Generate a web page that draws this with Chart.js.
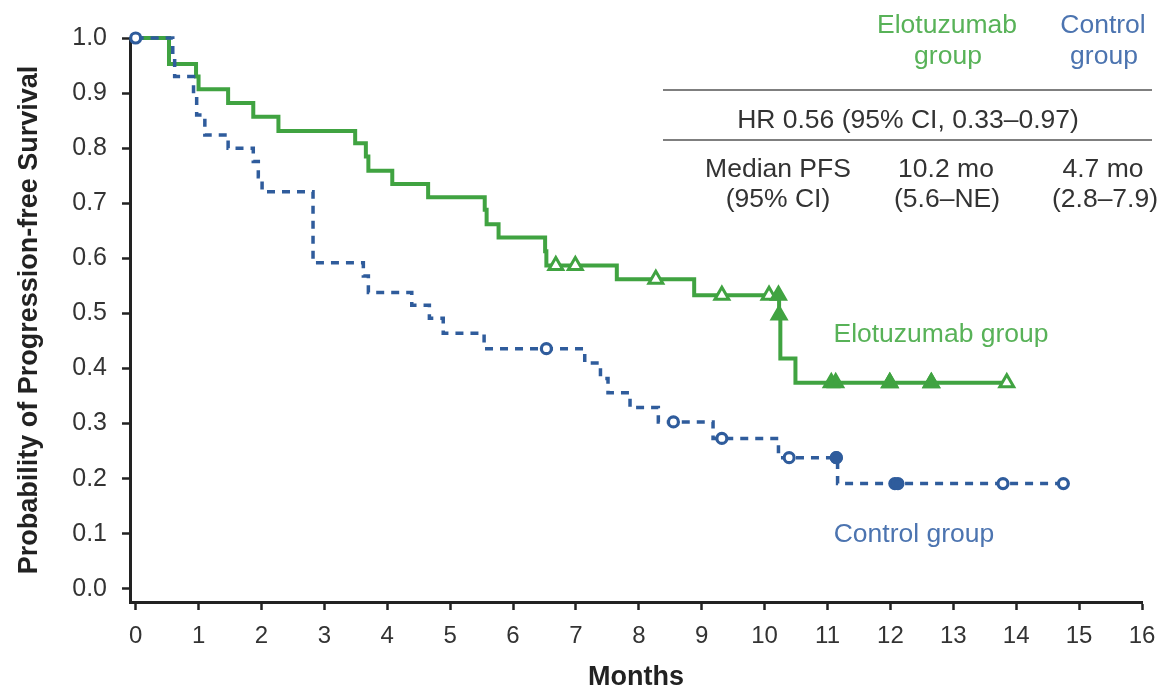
<!DOCTYPE html>
<html>
<head>
<meta charset="utf-8">
<script src="https://cdn.jsdelivr.net/npm/chart.js@4.4.1/dist/chart.umd.min.js"></script>
<style>
  html, body { margin: 0; padding: 0; background: #ffffff; }
  #wrap { width: 1162px; height: 691px; position: relative; }
</style>
</head>
<body>
<div id="wrap"><canvas id="km"></canvas></div>
<script>
// Axis ticks
const monthTicks = [0, 1, 2, 3, 4, 5, 6, 7, 8, 9, 10, 11, 12, 13, 14, 15, 16];
const survivalTicks = [0, 0.1, 0.2, 0.3, 0.4, 0.5, 0.6, 0.7, 0.8, 0.9, 1.0];

// Elotuzumab group: event times (months) and survival after each step
const eloTimes = [0, 0.53, 0.96, 1.00, 1.47, 1.87, 2.27, 3.49, 3.66, 3.70, 4.08, 4.65, 5.55, 5.58, 5.77, 6.51, 6.53, 7.65, 8.88, 10.23, 10.25, 10.49, 13.85];
const eloSurv  = [1.0, 0.953, 0.930, 0.907, 0.882, 0.857, 0.831, 0.809, 0.785, 0.759, 0.735, 0.711, 0.688, 0.662, 0.638, 0.613, 0.587, 0.562, 0.533, 0.497, 0.418, 0.374, 0.374];
// Elotuzumab group: censored observations
const eloCensorTimes = [6.68, 6.99, 8.27, 9.32, 10.07, 10.22, 10.23, 11.06, 11.13, 11.99, 11.99, 12.65, 12.65, 13.85];
const eloCensorSurv  = [0.587, 0.587, 0.562, 0.533, 0.533, 0.533, 0.497, 0.374, 0.374, 0.374, 0.374, 0.374, 0.374, 0.374];

// Control group: event times (months) and survival after each step
const ctlTimes = [0, 0.59, 0.62, 0.92, 0.97, 1.10, 1.47, 1.87, 1.95, 2.01, 2.82, 3.62, 3.70, 4.39, 4.67, 4.89, 5.54, 7.14, 7.39, 7.51, 7.86, 8.31, 9.18, 10.22, 11.16, 14.75];
const ctlSurv  = [1.0, 0.965, 0.930, 0.895, 0.860, 0.824, 0.800, 0.776, 0.748, 0.721, 0.592, 0.568, 0.538, 0.515, 0.491, 0.464, 0.436, 0.410, 0.382, 0.356, 0.329, 0.303, 0.273, 0.238, 0.191, 0.191];
// Control group: censored observations
const ctlCensorTimes = [0, 6.53, 8.55, 9.32, 10.39, 11.14, 11.14, 12.07, 12.12, 13.79, 14.75];
const ctlCensorSurv  = [1.0, 0.436, 0.303, 0.273, 0.238, 0.238, 0.238, 0.191, 0.191, 0.191, 0.191];

const GREEN = '#40a341';
const GREEN_TEXT = '#58b258';
const BLUE = '#2f5c9c';
const BLUE_TEXT = '#4c74b0';
const FONT = '"Liberation Sans", Arial, Helvetica, sans-serif';

const toPoints = (xs, ys) => xs.map((x, i) => ({ x: x, y: ys[i] }));

// A censor mark is drawn solid where several censorings pile up at nearly the same time
function crowded(times, idx) {
  let n = 0;
  for (const t of times) if (Math.abs(t - times[idx]) < 0.1) n++;
  return n > 1;
}

const annotations = {
  id: 'kmAnnotations',
  afterDraw(chart) {
    const ctx = chart.ctx;
    ctx.save();
    ctx.textAlign = 'center';
    ctx.textBaseline = 'alphabetic';
    ctx.font = '26.5px ' + FONT;

    ctx.fillStyle = GREEN_TEXT;
    ctx.fillText('Elotuzumab', 947, 33);
    ctx.fillText('group', 948, 64);
    ctx.fillStyle = BLUE_TEXT;
    ctx.fillText('Control', 1103, 33);
    ctx.fillText('group', 1104, 64);

    ctx.strokeStyle = '#555';
    ctx.lineWidth = 1.5;
    ctx.beginPath();
    ctx.moveTo(663, 90); ctx.lineTo(1152, 90);
    ctx.moveTo(663, 140); ctx.lineTo(1152, 140);
    ctx.stroke();

    ctx.fillStyle = '#333';
    ctx.fillText('HR 0.56 (95% CI, 0.33\u20130.97)', 908, 128);
    ctx.fillText('Median PFS', 778, 177);
    ctx.fillText('(95% CI)', 778, 207);
    ctx.fillText('10.2 mo', 946, 177);
    ctx.fillText('(5.6\u2013NE)', 947, 207);
    ctx.fillText('4.7 mo', 1103, 177);
    ctx.fillText('(2.8\u20137.9)', 1105, 207);

    ctx.fillStyle = GREEN_TEXT;
    ctx.fillText('Elotuzumab group', 941, 342);
    ctx.fillStyle = BLUE_TEXT;
    ctx.fillText('Control group', 914, 542);
    ctx.restore();
  }
};

new Chart(document.getElementById('km'), {
  type: 'line',
  data: {
    datasets: [
      {
        label: 'Elotuzumab group',
        data: toPoints(eloTimes, eloSurv),
        stepped: 'before',
        borderColor: GREEN,
        borderWidth: 4,
        pointRadius: 0,
        fill: false,
        clip: false,
        order: 4
      },
      {
        label: 'Control group',
        data: toPoints(ctlTimes, ctlSurv),
        stepped: 'before',
        borderColor: BLUE,
        borderWidth: 3.5,
        borderDash: [8, 7],
        borderCapStyle: 'butt',
        pointRadius: 0,
        fill: false,
        clip: false,
        order: 3
      },
      {
        label: 'Elotuzumab censored',
        data: toPoints(eloCensorTimes, eloCensorSurv),
        showLine: false,
        pointStyle: 'triangle',
        pointRadius: 8,
        borderWidth: 3,
        borderColor: GREEN,
        backgroundColor: c => crowded(eloCensorTimes, c.dataIndex) ? GREEN : '#ffffff',
        clip: false,
        order: 2
      },
      {
        label: 'Control censored',
        data: toPoints(ctlCensorTimes, ctlCensorSurv),
        showLine: false,
        pointStyle: 'circle',
        pointRadius: 5,
        borderWidth: 3.2,
        borderColor: BLUE,
        backgroundColor: c => crowded(ctlCensorTimes, c.dataIndex) ? BLUE : '#ffffff',
        clip: false,
        order: 1
      }
    ]
  },
  options: {
    responsive: true,
    maintainAspectRatio: false,
    devicePixelRatio: 1,
    animation: false,
    events: [],
    layout: { padding: { top: 38, right: 20, left: 0, bottom: 0 } },
    plugins: { legend: { display: false }, tooltip: { enabled: false } },
    scales: {
      x: {
        type: 'linear',
        min: -0.09,
        max: 16,
        afterBuildTicks: s => { s.ticks = monthTicks.map(v => ({ value: v })); },
        afterFit: s => { s.height = 89; s.paddingLeft = 0; s.paddingRight = 0; },
        ticks: {
          autoSkip: false,
          maxRotation: 0,
          padding: 12,
          color: '#333',
          font: { family: FONT, size: 24 },
          callback: v => String(v)
        },
        grid: {
          display: true,
          drawOnChartArea: false,
          drawTicks: true,
          tickLength: 8,
          tickWidth: 2.5,
          tickColor: '#222'
        },
        border: { display: true, color: '#222', width: 3 },
        title: {
          display: true,
          text: 'Months',
          color: '#222',
          font: { family: FONT, size: 27, weight: 'bold', lineHeight: 1 },
          padding: { top: 0, bottom: 0 }
        }
      },
      y: {
        type: 'linear',
        min: -0.024,
        max: 1.0,
        afterBuildTicks: s => { s.ticks = survivalTicks.map(v => ({ value: v })); },
        afterFit: s => { s.width = 130; s.paddingTop = 0; s.paddingBottom = 0; },
        ticks: {
          autoSkip: false,
          padding: 15,
          color: '#333',
          font: { family: FONT, size: 25 },
          callback: v => Number(v).toFixed(1)
        },
        grid: {
          display: true,
          drawOnChartArea: false,
          drawTicks: true,
          tickLength: 8,
          tickWidth: 2.5,
          tickColor: '#222'
        },
        border: { display: true, color: '#222', width: 3 },
        title: {
          display: true,
          text: 'Probability of Progression-free Survival',
          color: '#222',
          font: { family: FONT, size: 27, weight: 'bold', lineHeight: 1.2 },
          padding: { top: 13, bottom: 0 }
        }
      }
    }
  },
  plugins: [annotations]
});
</script>
</body>
</html>
